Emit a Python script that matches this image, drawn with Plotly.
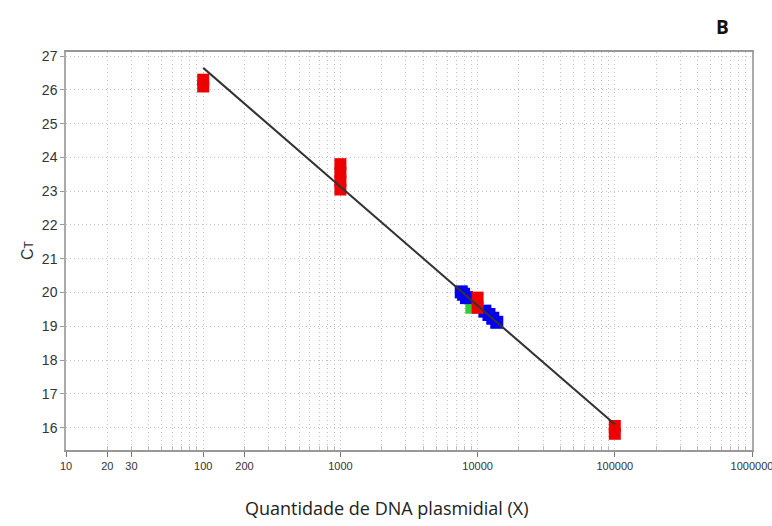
import plotly.graph_objects as go

# Data
red_x = [100, 100, 1000, 1000, 1000, 1000, 10000, 10000, 100000, 100000]
red_y = [26.1, 26.3, 23.05, 23.3, 23.55, 23.8, 19.55, 19.85, 15.82, 16.05]

blue_x = [7600, 7900, 8300, 11300, 12100, 12900, 13800]
blue_y = [20.02, 19.95, 19.85, 19.45, 19.35, 19.24, 19.12]

green_x = [9000]
green_y = [19.55]

line_x = [100, 100000]
line_y = [26.65, 16.1]

x_tick_vals = [10, 20, 30, 100, 200, 1000, 10000, 100000, 1000000]
x_tick_text = ["10", "20", "30", "100", "200", "1000", "10000", "100000", "1000000"]
x_minor_vals = [m * 10 ** d for d in range(1, 6) for m in range(2, 10)]
y_tick_vals = list(range(16, 28))

GRID = "#c4c4c4"
DASH = "1px,3px"

fig = go.Figure()
fig.add_trace(go.Scatter(x=green_x, y=green_y, mode="markers",
                         marker=dict(symbol="square", size=12, color="#33cc33", line=dict(width=0)),
                         showlegend=False))
fig.add_trace(go.Scatter(x=blue_x, y=blue_y, mode="markers",
                         marker=dict(symbol="square", size=13, color="#0000ee", line=dict(width=0)),
                         showlegend=False))
fig.add_trace(go.Scatter(x=red_x, y=red_y, mode="markers",
                         marker=dict(symbol="square", size=12, color="#ee0000", line=dict(width=0)),
                         showlegend=False))
fig.add_trace(go.Scatter(x=line_x, y=line_y, mode="lines",
                         line=dict(color="#333333", width=2), showlegend=False))

L, R, T, B = 66, 20, 52, 76
W, H = 772, 526
pw = W - L - R
ph = H - T - B


def px(x):
    return (x - L) / pw


def py(y):
    return (H - B - y) / ph


fig.update_layout(
    width=W, height=H,
    margin=dict(l=L, r=R, t=T, b=B, autoexpand=False),
    paper_bgcolor="white", plot_bgcolor="white",
    font=dict(family="Liberation Sans, Arial", color="#333333"),
    xaxis=dict(
        type="log", range=[1, 6], automargin=False,
        tickmode="array", tickvals=x_tick_vals, ticktext=x_tick_text,
        tickfont=dict(size=11, color="#333333"), ticklabeloverflow="allow",
        ticks="outside", ticklen=5, tickcolor="#777777",
        showgrid=True, gridcolor=GRID, griddash=DASH, gridwidth=1,
        minor=dict(tickmode="array", tickvals=x_minor_vals, showgrid=True,
                   gridcolor=GRID, griddash=DASH, gridwidth=1,
                   ticks="inside", ticklen=4, tickcolor="#bbbbbb"),
        showline=True, linecolor="#999999", linewidth=1.5, mirror=True,
        zeroline=False,
    ),
    yaxis=dict(
        range=[15.34, 27.12], automargin=False,
        tickmode="array", tickvals=y_tick_vals,
        tickfont=dict(size=14, color="#333333"),
        ticks="outside", ticklen=4, tickcolor="#999999",
        showgrid=True, gridcolor=GRID, griddash=DASH, gridwidth=1,
        showline=True, linecolor="#aaaaaa", linewidth=1.5, mirror=True,
        zeroline=False,
    ),
    annotations=[
        dict(text="Quantidade de DNA plasmidial (X)", x=px(386), y=py(508),
             xref="paper", yref="paper", xanchor="center", yanchor="middle",
             showarrow=False, font=dict(family="Open Sans", size=18, color="#222222")),
        dict(text="C<span style='font-size:12px'>T</span>", x=px(27), y=py(250),
             xref="paper", yref="paper", xanchor="center", yanchor="middle",
             showarrow=False, textangle=-90,
             font=dict(family="Liberation Sans", size=16, color="#333333")),
        dict(text="<b>B</b>", x=px(722), y=py(27), xref="paper", yref="paper",
             xanchor="center", yanchor="middle", showarrow=False,
             font=dict(family="Open Sans", size=19, color="#111111")),
    ],
)

fig.write_html("out.html", config={"displayModeBar": False},
               post_script="document.body.style.margin='0';document.body.style.overflow='hidden';")
